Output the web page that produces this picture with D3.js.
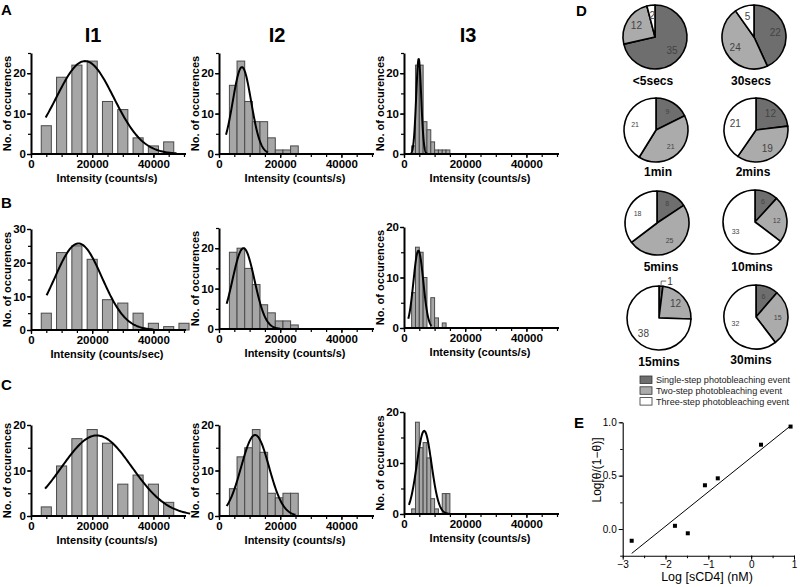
<!DOCTYPE html>
<html><head><meta charset="utf-8">
<script src="https://cdn.jsdelivr.net/npm/d3@7"></script>
<style>
body{margin:0;background:#fff}
svg{display:block}
text{font-family:"Liberation Sans",Arial,sans-serif}
</style>
</head><body>
<svg id="c" width="800" height="587"></svg>
<script>
// ---------------- DATA ----------------
const columnTitles = ["I1", "I2", "I3"];
const rowLetters = ["A", "B", "C"];
// histogram counts (rows A,B,C x columns I1,I2,I3)
const countsA1 = [7, 19, 22, 23, 13, 11, 4, 2, 3];
const countsA2 = [17, 23, 13, 8, 8, 4, 1, 1, 2];
const countsA3 = [2, 22, 22, 8, 6, 3, 1, 1, 1, 1];
const countsB1 = [5, 23, 25, 21, 9, 8, 5, 2, 1, 2];
const countsB2 = [19, 20, 15, 11, 6, 4, 2, 2, 1];
const countsB3 = [7, 16, 15, 10, 0, 6, 2, 0, 1];
const countsC1 = [2, 11, 17, 19, 16, 7, 9, 7, 3];
const countsC2 = [6, 13, 15, 19, 14, 5, 4, 5, 5];
const countsC3 = [1, 18, 13, 14, 11, 3, 1, 0, 4, 4];
// bin lower edges / widths per column (counts/s)
const binFirstEdge = [2500, 3400, 2500];
const binWidth = [5000, 2500, 1250];
// Gaussian fits: [amplitude, mean, sigma, xFrom, xTo]
const fitA1 = [23, 17650, 9400, 4800, 47600];
const fitA2 = [21.5, 7500, 3000, 2300, 16000];
const fitA3 = [23.5, 4800, 820, 2300, 7600];
const fitB1 = [25.7, 15500, 7700, 5100, 40000];
const fitB2 = [20, 8000, 3600, 2500, 20000];
const fitB3 = [15.3, 4700, 1600, 1400, 9000];
const fitC1 = [17.7, 21500, 11500, 4600, 52000];
const fitC2 = [17.8, 11800, 4550, 2500, 25000];
const fitC3 = [16.3, 6600, 2380, 1600, 15000];
const yMaxValues = [[25, 25, 25], [30, 25, 20], [20, 20, 20]];
const xTickLabels = [0, 20000, 40000];
const xLabels = [["Intensity (counts/s)", "Intensity (counts/s)", "Intensity (counts/s)"],
                 ["Intensity (counts/sec)", "Intensity (counts/s)", "Intensity (counts/s)"],
                 ["Intensity (counts/s)", "Intensity (counts/s)", "Intensity (counts/s)"]];
const yLabel = "No. of occurences";

// Panel D pies
const pieNames = ["<5secs", "30secs", "1min", "2mins", "5mins", "10mins", "15mins", "30mins"];
const singleStep = [35, 22, 9, 12, 8, 6, 1, 6];
const twoStep = [12, 24, 21, 19, 25, 12, 12, 15];
const threeStep = [2, 5, 21, 21, 18, 33, 38, 32];
const legendLabels = ["Single-step photobleaching event", "Two-step photobleaching event", "Three-step photobleaching event"];

// Panel E
const logSCD4 = [-2.79, -1.78, -1.48, -1.08, -0.78, 0.23, 0.92];
const logTheta = [-0.11, 0.03, -0.04, 0.41, 0.475, 0.79, 0.96];
const eXTicks = [-3, -2, -1, 0, 1];
const eYTicks = [0.0, 0.5, 1.0];

// ---------------- LAYOUT / STYLE ----------------
const svg = d3.select("#c");
const colX = [31, 219, 404];
const rowY0 = [[154, 154, 154], [330, 329, 328], [516, 516, 514]];
const rowTop = [[53, 53, 53], [229, 228, 227], [425, 425, 412]];
const barFrac = [0.66, 1, 1];
const barFill = "#a6a6a6", barStroke = "#4a4a4a";
const counts = [[countsA1, countsA2, countsA3], [countsB1, countsB2, countsB3], [countsC1, countsC2, countsC3]];
const fits = [[fitA1, fitA2, fitA3], [fitB1, fitB2, fitB3], [fitC1, fitC2, fitC3]];

function styleAxis(g, w) {
  g.select(".domain").attr("stroke", "#000").attr("stroke-width", w);
  g.selectAll(".tick line").attr("stroke", "#000").attr("stroke-width", 1.3);
}

function drawHist(r, c) {
  const x0 = colX[c], y0 = rowY0[r][c], top = rowTop[r][c], ymax = yMaxValues[r][c];
  const x = d3.scaleLinear().domain([0, 50000]).range([x0, x0 + 153]);
  const y = d3.scaleLinear().domain([0, ymax]).range([y0, top]);
  const g = svg.append("g");
  const data = counts[r][c];
  const bw = binWidth[c], fe = binFirstEdge[c], fr = barFrac[c];
  g.selectAll("rect.bar").data(data).join("rect")
    .attr("x", (d, i) => x(fe + i * bw + bw * (1 - fr) / 2))
    .attr("width", x(bw * fr) - x(0))
    .attr("y", d => y(d))
    .attr("height", d => y(0) - y(d))
    .attr("fill", barFill).attr("stroke", barStroke).attr("stroke-width", 1)
    .attr("display", d => d > 0 ? null : "none");
  // fit curve
  const f = fits[r][c];
  const xs = d3.range(f[3], f[4] + 1, (f[4] - f[3]) / 120);
  const line = d3.line().x(v => x(v)).y(v => y(f[0] * Math.exp(-((v - f[1]) ** 2) / (2 * f[2] * f[2]))));
  g.append("path").datum(xs).attr("d", line).attr("fill", "none").attr("stroke", "#000").attr("stroke-width", 2);
  // minor x ticks
  const gxm = g.append("g").attr("transform", `translate(0,${y0})`)
    .call(d3.axisBottom(x).tickValues(d3.range(0, 50001, 5000)).tickSize(3).tickFormat(""));
  gxm.select(".domain").remove();
  gxm.selectAll(".tick line").attr("stroke", "#000").attr("stroke-width", 1.2);
  const gx = g.append("g").attr("transform", `translate(0,${y0})`)
    .call(d3.axisBottom(x).tickValues(xTickLabels).tickSize(4).tickSizeOuter(0).tickPadding(2).tickFormat(d3.format("d")));
  styleAxis(gx, 2);
  gx.select(".domain").attr("d", `M${x0},0H${x0 + 155}`);
  gx.selectAll("text").attr("font-size", 11.5).attr("font-weight", "bold").attr("fill", "#000")
    .attr("font-family", "Liberation Sans, Arial, sans-serif");
  // y axis
  const gym = g.append("g").attr("transform", `translate(${x0},0)`)
    .call(d3.axisLeft(y).tickValues(d3.range(0, ymax + 0.1, 5)).tickSize(3).tickFormat(""));
  gym.select(".domain").remove();
  gym.selectAll(".tick line").attr("stroke", "#000").attr("stroke-width", 1.2);
  const gy = g.append("g").attr("transform", `translate(${x0},0)`)
    .call(d3.axisLeft(y).tickValues(d3.range(0, ymax + 0.1, 10)).tickSize(4).tickSizeOuter(0).tickPadding(1).tickFormat(d3.format("d")));
  styleAxis(gy, 2);
  gy.selectAll("text").attr("font-size", 11.5).attr("font-weight", "bold").attr("fill", "#000")
    .attr("font-family", "Liberation Sans, Arial, sans-serif");
  // labels
  svg.append("text").attr("x", x0 + 76).attr("y", y0 + 28).attr("text-anchor", "middle")
    .attr("font-size", 11).attr("font-weight", "bold").text(xLabels[r][c]);
  svg.append("text").attr("transform", `translate(${x0 - 20},${(y0 + rowTop[r][c]) / 2 + 0}) rotate(-90)`)
    .attr("text-anchor", "middle").attr("font-size", 11).attr("font-weight", "bold").text(yLabel);
}

for (let r = 0; r < 3; r++) for (let c = 0; c < 3; c++) drawHist(r, c);

// titles and panel letters
const titleX = [93, 277, 468];
columnTitles.forEach((t, i) => svg.append("text").attr("x", titleX[i]).attr("y", 42).attr("text-anchor", "middle")
  .attr("font-size", 20).attr("font-weight", "bold").text(t));
const letterY = [15, 208, 390];
rowLetters.forEach((t, i) => svg.append("text").attr("x", 1).attr("y", letterY[i])
  .attr("font-size", 15).attr("font-weight", "bold").text(t));
svg.append("text").attr("x", 576).attr("y", 16).attr("font-size", 15).attr("font-weight", "bold").text("D");
svg.append("text").attr("x", 574).attr("y", 428).attr("font-size", 15).attr("font-weight", "bold").text("E");

// ---------------- PANEL D ----------------
const pieCenters = [[655, 37], [754, 37], [656, 130], [756, 130], [657, 223], [755, 222], [659, 318], [756, 317]];
const pieNameY = [81, 81, 172, 172, 267, 267, 362, 360];
const pieNameX = [653, 751, 658, 753, 661, 752, 659, 751];
const pieFont = [10, 10, 7, 10, 7, 7, 10, 7];
const pieColors = ["#6e6e6e", "#ababab", "#ffffff"];
const R = 32;
const pie = d3.pie().sort(null).value(d => d);
const arc = d3.arc().innerRadius(0).outerRadius(R);
pieNames.forEach((name, i) => {
  const vals = [singleStep[i], twoStep[i], threeStep[i]];
  const total = d3.sum(vals);
  const g = svg.append("g").attr("transform", `translate(${pieCenters[i][0]},${pieCenters[i][1]})`);
  const arcs = pie(vals);
  g.selectAll("path").data(arcs).join("path").attr("d", arc)
    .attr("fill", (d, j) => pieColors[j]).attr("stroke", "#000").attr("stroke-width", 1.6).attr("stroke-linejoin", "round");
  arcs.forEach((a, j) => {
    const mid = (a.startAngle + a.endAngle) / 2;
    if (a.data / total < 0.04) {
      const p1 = [Math.sin(mid) * R, -Math.cos(mid) * R];
      const p2 = [Math.sin(mid) * (R + 5), -Math.cos(mid) * (R + 5)];
      g.append("polyline").attr("points", `${p1} ${p2[0]},${p2[1]} ${p2[0] + 5},${p2[1]}`)
        .attr("fill", "none").attr("stroke", "#444").attr("stroke-width", 0.8);
      g.append("text").attr("x", p2[0] + 6).attr("y", p2[1] + 3.5).attr("font-size", pieFont[i])
        .attr("fill", "#333").text(a.data);
    } else {
      const rr = R * 0.68;
      g.append("text").attr("x", Math.sin(mid) * rr).attr("y", -Math.cos(mid) * rr)
        .attr("text-anchor", "middle").attr("dominant-baseline", "central")
        .attr("font-size", pieFont[i]).attr("fill", "#444").text(a.data);
    }
  });
  svg.append("text").attr("x", pieNameX[i]).attr("y", pieNameY[i]).attr("text-anchor", "middle")
    .attr("dominant-baseline", "central").attr("font-size", 12).attr("font-weight", "bold").text(name);
});
// legend
const legendTextW = [134, 126, 133];
legendLabels.forEach((t, j) => {
  svg.append("rect").attr("x", 640).attr("y", 376 + j * 10.8).attr("width", 12).attr("height", 7.5)
    .attr("fill", pieColors[j]).attr("stroke", "#333").attr("stroke-width", 0.8);
  svg.append("text").attr("x", 656).attr("y", 380 + j * 10.8).attr("dominant-baseline", "central")
    .attr("font-size", 8.7).attr("fill", "#222")
    .attr("textLength", legendTextW[j]).attr("lengthAdjust", "spacingAndGlyphs").text(t);
});

// ---------------- PANEL E ----------------
const ex = d3.scaleLinear().domain([-3, 1]).range([622.7, 794]);
const ey = d3.scaleLinear().domain([-0.25, 1.0]).range([555.7, 422.3]);
const ge = svg.append("g");
const exm = ge.append("g").attr("transform", "translate(0,555.7)")
  .call(d3.axisBottom(ex).tickValues(d3.range(-3, 1.01, 0.5)).tickSize(2.5).tickFormat(""));
exm.select(".domain").remove();
const exa = ge.append("g").attr("transform", "translate(0,555.7)")
  .call(d3.axisBottom(ex).tickValues(eXTicks).tickSize(4).tickSizeOuter(0).tickPadding(1).tickFormat(d3.format("d")));
const eym = ge.append("g").attr("transform", "translate(622.7,0)")
  .call(d3.axisLeft(ey).tickValues([-0.25, 0, 0.25, 0.5, 0.75, 1.0]).tickSize(2.5).tickFormat(""));
eym.select(".domain").remove();
const eya = ge.append("g").attr("transform", "translate(622.7,0)")
  .call(d3.axisLeft(ey).tickValues(eYTicks).tickSize(4).tickSizeOuter(0).tickPadding(2).tickFormat(d3.format(".1f")));
[exm, exa, eym, eya].forEach(a => {
  a.select(".domain").attr("stroke", "#000").attr("stroke-width", 1.1);
  a.selectAll(".tick line").attr("stroke", "#000").attr("stroke-width", 1);
  a.selectAll("text").attr("font-size", 10).attr("fill", "#000").attr("font-family", "Liberation Sans, Arial, sans-serif");
});
// regression line from data
const mx = d3.mean(logSCD4), my = d3.mean(logTheta);
const sxy = d3.sum(logSCD4, (v, i) => (v - mx) * (logTheta[i] - my));
const sxx = d3.sum(logSCD4, v => (v - mx) ** 2);
const slope = sxy / sxx, icpt = my - slope * mx;
const xr = d3.extent(logSCD4);
ge.append("line").attr("x1", ex(xr[0])).attr("y1", ey(icpt + slope * xr[0]))
  .attr("x2", ex(xr[1])).attr("y2", ey(icpt + slope * xr[1])).attr("stroke", "#000").attr("stroke-width", 1);
ge.selectAll("rect.pt").data(logSCD4).join("rect").attr("class", "pt")
  .attr("x", (d) => ex(d) - 2).attr("y", (d, i) => ey(logTheta[i]) - 2).attr("width", 4).attr("height", 4).attr("fill", "#000");
svg.append("text").attr("x", 707).attr("y", 577).attr("text-anchor", "middle").attr("dominant-baseline", "central")
  .attr("font-size", 12.5).text("Log [sCD4] (nM)");
svg.append("text").attr("transform", "translate(597,470) rotate(-90)").attr("text-anchor", "middle")
  .attr("dominant-baseline", "central").attr("font-size", 12).text("Log[θ/(1−θ)]");
</script>
</body></html>
